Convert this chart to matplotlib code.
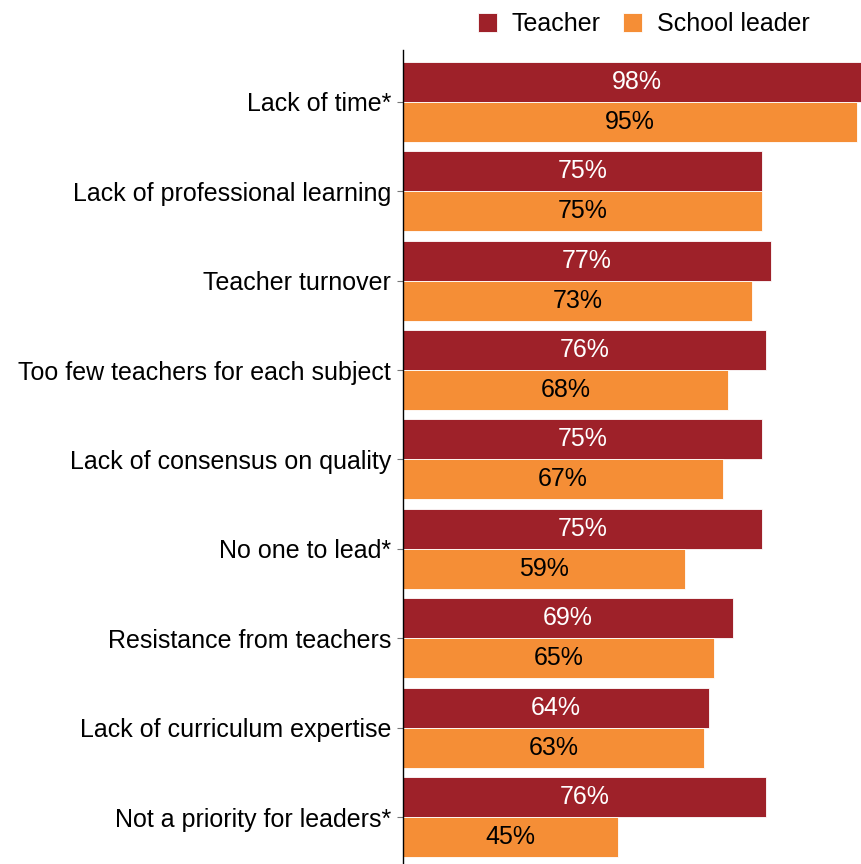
import numpy as np
import matplotlib.pyplot as plt

plt.rcParams["font.family"] = ["Liberation Sans", "DejaVu Sans"]

categories = [
    "Lack of time*",
    "Lack of professional learning",
    "Teacher turnover",
    "Too few teachers for each subject",
    "Lack of consensus on quality",
    "No one to lead*",
    "Resistance from teachers",
    "Lack of curriculum expertise",
    "Not a priority for leaders*",
]
teacher = [98, 75, 77, 76, 75, 75, 69, 64, 76]
school_leader = [95, 75, 73, 68, 67, 59, 65, 63, 45]

teacher_color = "#9e2129"
leader_color = "#f58e36"
fs = 18

fig = plt.figure(figsize=(8.61, 8.64), dpi=100)
ax = fig.add_axes([403 / 861, 0, 458 / 861, 814 / 864])

y = np.arange(len(categories))
h = 0.447
ax.barh(y, teacher, height=-h, align="edge", color=teacher_color,
        edgecolor="white", linewidth=0.6, label="Teacher")
ax.barh(y, school_leader, height=h, align="edge", color=leader_color,
        edgecolor="white", linewidth=0.6, label="School leader")

for i in range(len(categories)):
    ax.text(teacher[i] / 2, y[i] - h / 2, f"{teacher[i]}%", ha="center",
            va="center", color="white", fontsize=fs)
    ax.text(school_leader[i] / 2, y[i] + h / 2, f"{school_leader[i]}%",
            ha="center", va="center", color="black", fontsize=fs)

ax.set_xlim(0, 95.8)
ax.set_ylim(8.525, -0.58)
ax.set_yticks(y)
ax.set_yticklabels(categories, fontsize=fs)
ax.tick_params(axis="y", length=4.5, color="#777777", pad=4)
ax.set_xticks([])
for side in ["top", "right", "bottom"]:
    ax.spines[side].set_visible(False)
ax.spines["left"].set_linewidth(1)

fig.legend(loc="center", bbox_to_anchor=(644 / 861, 1 - 24 / 864), ncol=2,
           frameon=False, fontsize=fs, handlelength=0.76, handleheight=0.76,
           handletextpad=0.6, columnspacing=0.9)

fig.savefig("out.png", dpi=100)
